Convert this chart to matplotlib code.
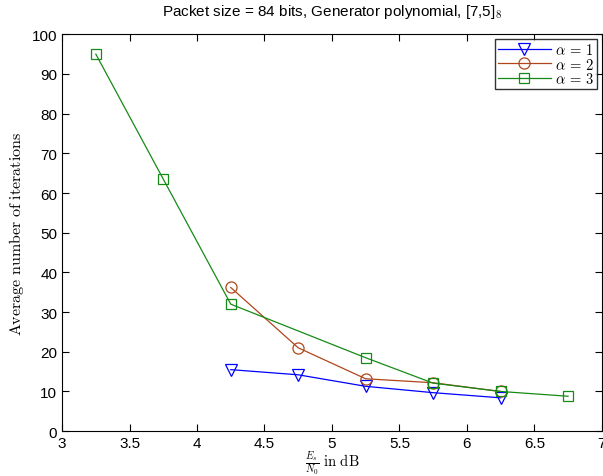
import numpy as np
import matplotlib
matplotlib.use('Agg')
import matplotlib.pyplot as plt

plt.rcParams['font.family'] = ['Liberation Sans', 'DejaVu Sans']
plt.rcParams['mathtext.fontset'] = 'cm'

# data
x1 = [4.25, 4.75, 5.25, 5.75, 6.25]
y1 = [15.5, 14.2, 11.3, 9.7, 8.4]
x2 = [4.25, 4.75, 5.25, 5.75, 6.25]
y2 = [36.2, 21.0, 13.2, 12.2, 10.0]
x3 = [3.25, 3.75, 4.25, 5.25, 5.75, 6.25, 6.75]
y3 = [95.0, 63.5, 32.0, 18.5, 12.1, 10.0, 8.8]
xticks = [3, 3.5, 4, 4.5, 5, 5.5, 6, 6.5, 7]
xticklabels = ['3', '3.5', '4', '4.5', '5', '5.5', '6', '6.5', '7']
yticks = list(range(0, 101, 10))

fig = plt.figure(figsize=(6.03, 4.77), dpi=100)
ax = fig.add_axes([0.103, 0.094, 0.895, 0.832])

ax.plot(x1, y1, color='#0000ff', lw=0.9, marker='v', ms=9, mfc='none', mew=0.9, label=r'$\alpha\,=\,1$')
ax.plot(x2, y2, color='#b0461a', lw=0.9, marker='o', ms=8, mfc='none', mew=0.9, label=r'$\alpha\,=\,2$')
ax.plot(x3, y3, color='#168a16', lw=0.9, marker='s', ms=7, mfc='none', mew=0.9, label=r'$\alpha\,=\,3$')

ax.set_xlim(3, 7)
ax.set_ylim(0, 100)
ax.set_xticks(xticks)
ax.set_xticklabels(xticklabels)
ax.set_yticks(yticks)
ax.tick_params(direction='in', top=True, right=True, labelsize=11, length=5)
for s in ax.spines.values():
    s.set_linewidth(0.8)

ax.text(0.5, 1.058, r'Packet size = 84 bits, Generator polynomial, [7,5]$_{\mathsf{8}}$',
        transform=ax.transAxes, ha='center', va='center', fontsize=11)
ax.set_xlabel(r'$\frac{E_s}{N_0}\ \mathrm{in\ dB}$', fontsize=10.5, labelpad=-1)
ax.set_ylabel(r'$\mathrm{Average\ number\ of\ iterations}$', fontsize=11.5, labelpad=4)

leg = ax.legend(loc='upper right', fontsize=10.5, fancybox=False, edgecolor='black',
                handlelength=3.6, borderpad=0.2, labelspacing=-0.05, borderaxespad=0.35,
                handletextpad=0.3)
leg.get_frame().set_linewidth(1.0)

fig.savefig('out.png', dpi=100)
